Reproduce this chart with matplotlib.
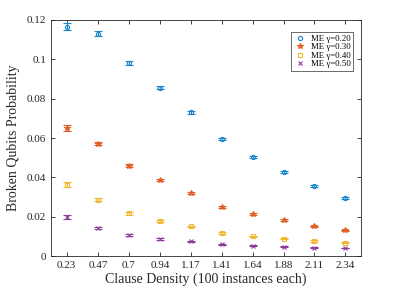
import matplotlib
matplotlib.use("Agg")
import matplotlib.pyplot as plt
import numpy as np

plt.rcParams['font.family'] = ['Liberation Serif', 'DejaVu Serif']

density = [0.23, 0.47, 0.7, 0.94, 1.17, 1.41, 1.64, 1.88, 2.11, 2.34]
density_labels = ["0.23", "0.47", "0.7", "0.94", "1.17", "1.41", "1.64", "1.88", "2.11", "2.34"]

p_020 = [0.1165, 0.1130, 0.0980, 0.0855, 0.0730, 0.0595, 0.0505, 0.0428, 0.0355, 0.0298]
e_020 = [0.0018, 0.0012, 0.0010, 0.0009, 0.0008, 0.0007, 0.0006, 0.0006, 0.0006, 0.0005]
p_030 = [0.0650, 0.0572, 0.0460, 0.0387, 0.0321, 0.0251, 0.0216, 0.0184, 0.0152, 0.0131]
e_030 = [0.0017, 0.0010, 0.0008, 0.0007, 0.0006, 0.0005, 0.0005, 0.0004, 0.0004, 0.0004]
p_040 = [0.0363, 0.0288, 0.0218, 0.0180, 0.0152, 0.0118, 0.0102, 0.0090, 0.0078, 0.0068]
e_040 = [0.0014, 0.0009, 0.0006, 0.0005, 0.0004, 0.0004, 0.0003, 0.0003, 0.0003, 0.0003]
p_050 = [0.0198, 0.0145, 0.0107, 0.0088, 0.0076, 0.0061, 0.0054, 0.0049, 0.0044, 0.0042]
e_050 = [0.0010, 0.0006, 0.0004, 0.0003, 0.0003, 0.0003, 0.0002, 0.0002, 0.0002, 0.0002]

series_labels = ["ME γ=0.20", "ME γ=0.30", "ME γ=0.40", "ME γ=0.50"]
y_ticks = [0, 0.02, 0.04, 0.06, 0.08, 0.1, 0.12]
y_tick_labels = ["0", "0.02", "0.04", "0.06", "0.08", "0.1", "0.12"]

colors = ["#1a86cc", "#e0602a", "#f0b930", "#8a3d99"]
markers = ["o", "*", "s", "x"]

fig = plt.figure(figsize=(3.99, 2.88), dpi=100)
ax = fig.add_axes([51/399, 1-256.3/288, (360.7-51)/399, (256.3-19.7)/288])

for vals, errs, c, m, lab in zip([p_020, p_030, p_040, p_050], [e_020, e_030, e_040, e_050],
                                 colors, markers, series_labels):
    filled = m in ("*", "x")
    ax.errorbar(density, vals, yerr=errs, fmt=m, color=c, ecolor=c,
                markersize=3.0 if m != "*" else 3.8,
                markerfacecolor=c if filled else 'none', markeredgecolor=c,
                markeredgewidth=0.8, elinewidth=0.9, capsize=2.8, capthick=0.9, label=lab)

ax.set_xlim(0.111, 2.461)
ax.set_ylim(0, 0.12)
ax.set_xticks(density)
ax.set_xticklabels(density_labels)
ax.set_yticks(y_ticks)
ax.set_yticklabels(y_tick_labels)
ax.tick_params(direction='in', top=True, right=True, labelsize=8, length=3, width=0.6, colors='#262626')
for sp in ax.spines.values():
    sp.set_linewidth(0.6)
    sp.set_color('#262626')
ax.set_xlabel("Clause Density (100 instances each)", fontsize=10, color='#262626', labelpad=2)
ax.set_ylabel("Broken Qubits Probability", fontsize=10, color='#262626', labelpad=5)

handles, labels = ax.get_legend_handles_labels()
leg = ax.legend([h[0] for h in handles], labels, loc='upper right', bbox_to_anchor=(0.985, 0.957),
                fontsize=6.3, frameon=True, fancybox=False, edgecolor='#262626',
                handlelength=1.6, handletextpad=0.5, borderpad=0.25, labelspacing=0.05,
                borderaxespad=0.3)
leg.get_frame().set_linewidth(0.6)

fig.savefig("out.png", dpi=100)
